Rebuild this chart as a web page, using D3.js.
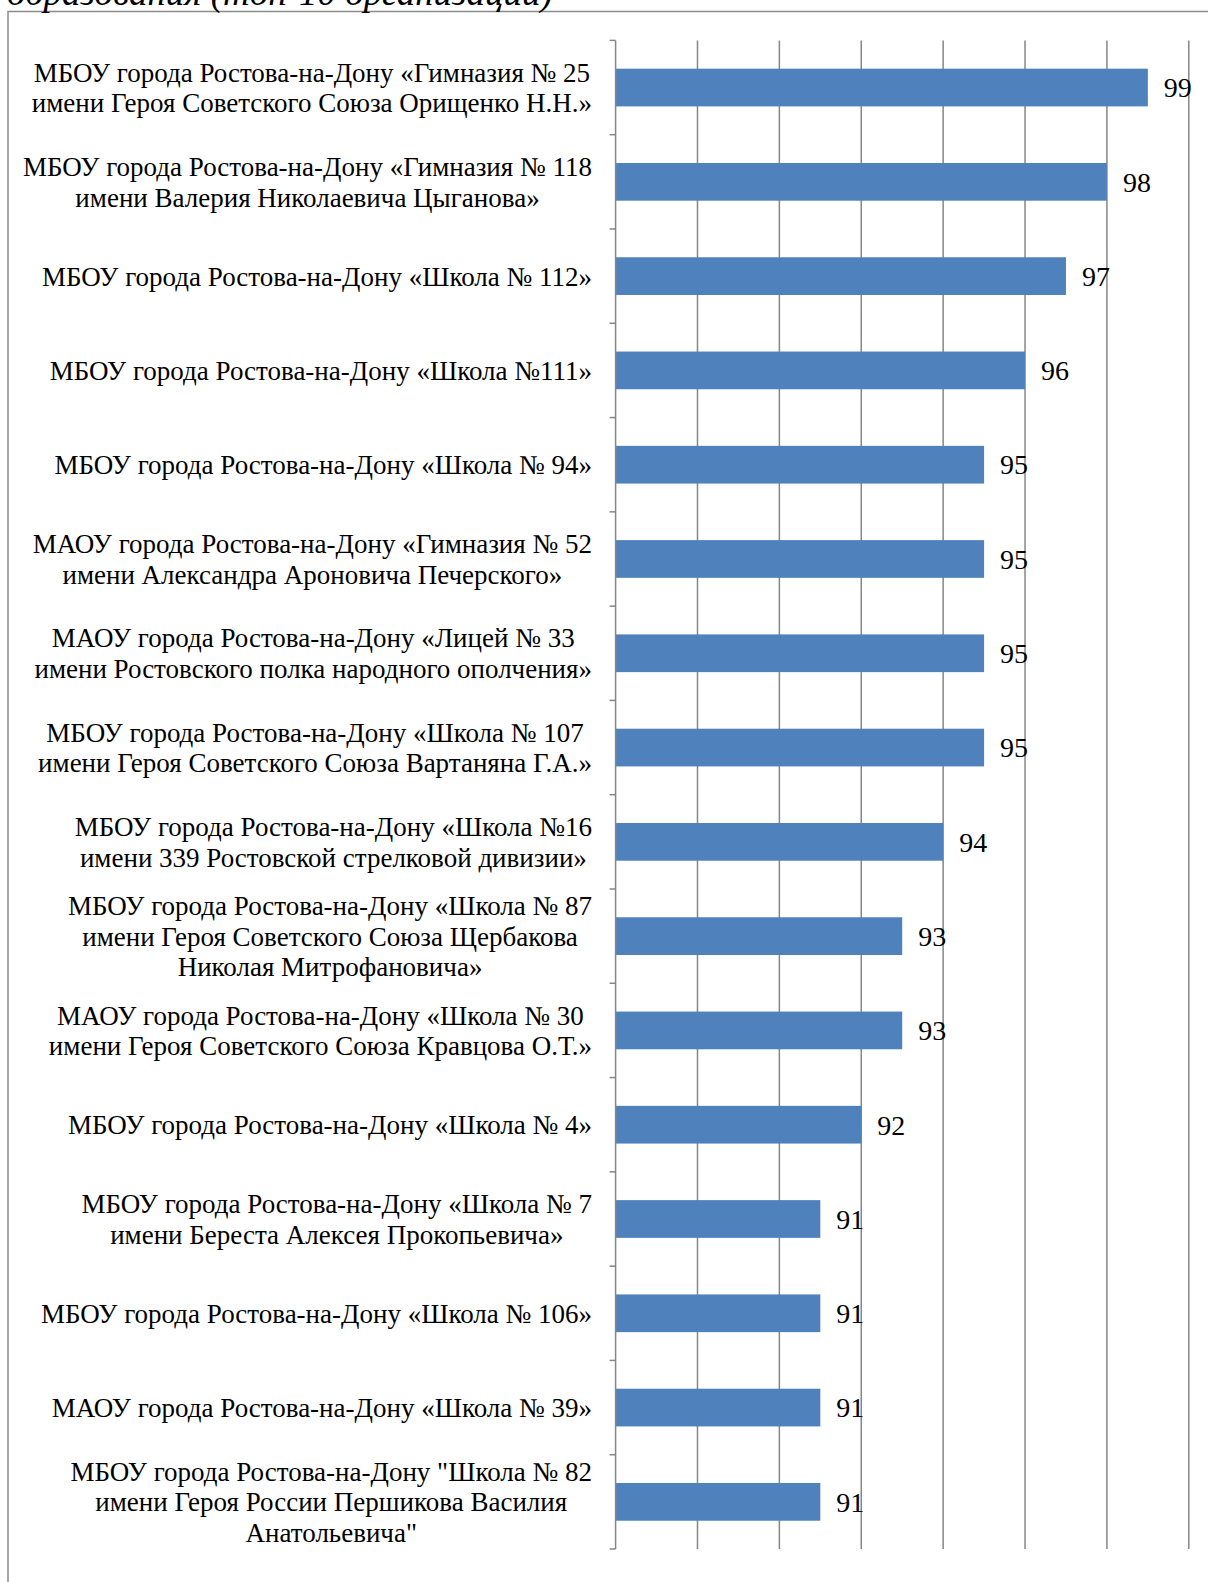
<!DOCTYPE html>
<html>
<head>
<meta charset="utf-8">
<script src="https://cdn.jsdelivr.net/npm/d3@7"></script>
<style>
  html, body { margin: 0; padding: 0; background: #fff; }
  svg { display: block; }
</style>
</head>
<body>
<div id="chart"></div>
<script>
// Data
const schools = [
  ["МБОУ города Ростова-на-Дону «Гимназия № 25", "имени Героя Советского Союза Орищенко Н.Н.»"],
  ["МБОУ города Ростова-на-Дону «Гимназия № 118", "имени Валерия Николаевича Цыганова»"],
  ["МБОУ города Ростова-на-Дону «Школа № 112»"],
  ["МБОУ города Ростова-на-Дону «Школа №111»"],
  ["МБОУ города Ростова-на-Дону «Школа № 94»"],
  ["МАОУ города Ростова-на-Дону «Гимназия № 52", "имени Александра Ароновича Печерского»"],
  ["МАОУ города Ростова-на-Дону «Лицей № 33", "имени Ростовского полка народного ополчения»"],
  ["МБОУ города Ростова-на-Дону «Школа № 107", "имени Героя Советского Союза Вартаняна Г.А.»"],
  ["МБОУ города Ростова-на-Дону «Школа №16", "имени 339 Ростовской стрелковой дивизии»"],
  ["МБОУ города Ростова-на-Дону «Школа № 87", "имени Героя Советского Союза Щербакова", "Николая Митрофановича»"],
  ["МАОУ города Ростова-на-Дону «Школа № 30", "имени Героя Советского Союза Кравцова О.Т.»"],
  ["МБОУ города Ростова-на-Дону «Школа № 4»"],
  ["МБОУ города Ростова-на-Дону «Школа № 7", "имени Береста Алексея Прокопьевича»"],
  ["МБОУ города Ростова-на-Дону «Школа № 106»"],
  ["МАОУ города Ростова-на-Дону «Школа № 39»"],
  ["МБОУ города Ростова-на-Дону \"Школа № 82", "имени Героя России Першикова Василия", "Анатольевича\""]
];
const scores = [99, 98, 97, 96, 95, 95, 95, 95, 94, 93, 93, 92, 91, 91, 91, 91];
const gridValues = [86, 88, 90, 92, 94, 96, 98, 100];
const titleTail = "образования (топ-10 организаций)";

// Dimensions
const width = 1208;
const height = 1582;
const plotLeft = 615.6, plotRight = 1188.8, plotTop = 40.4, plotBottom = 1549;
const font = "'Liberation Serif', 'Times New Roman', serif";

const svg = d3.select("#chart")
  .append("svg")
    .attr("width", width)
    .attr("height", height);

// Frame and cut-off caption
svg.append("rect")
  .attr("x", 8).attr("y", 11.5)
  .attr("width", 1220).attr("height", 1600)
  .attr("fill", "none")
  .attr("stroke", "#8c8c8c")
  .attr("stroke-width", 1.5);

svg.append("text")
  .attr("x", 7).attr("y", 5)
  .attr("font-family", font)
  .attr("font-style", "italic")
  .attr("font-size", "37px")
  .attr("fill", "#000")
  .text(titleTail);

const x = d3.scaleLinear().domain([86, 100]).range([plotLeft, plotRight]);
const y = d3.scaleBand()
  .domain(d3.range(schools.length))
  .range([plotTop, plotBottom])
  .paddingInner(0.6)
  .paddingOuter(0.3);

// Gridlines
svg.append("g")
  .selectAll("line")
  .data(gridValues.slice(1))
  .join("line")
    .attr("x1", d => x(d)).attr("x2", d => x(d))
    .attr("y1", plotTop).attr("y2", plotBottom)
    .attr("stroke", "#868686")
    .attr("stroke-width", 1.5);

// Bars
svg.append("g")
  .selectAll("rect")
  .data(scores)
  .join("rect")
    .attr("x", x(86))
    .attr("y", (d, i) => y(i))
    .attr("width", d => x(d) - x(86))
    .attr("height", y.bandwidth())
    .attr("fill", "#4f81bd");

// Category axis with ticks on band boundaries
const boundaries = d3.range(schools.length + 1).map(k => plotTop + k * y.step());
const axis = svg.append("g");
axis.append("line")
  .attr("x1", plotLeft).attr("x2", plotLeft)
  .attr("y1", plotTop).attr("y2", plotBottom)
  .attr("stroke", "#868686")
  .attr("stroke-width", 1.5);
axis.selectAll(".tick")
  .data(boundaries)
  .join("line")
    .attr("class", "tick")
    .attr("x1", plotLeft - 6).attr("x2", plotLeft)
    .attr("y1", d => d).attr("y2", d => d)
    .attr("stroke", "#868686")
    .attr("stroke-width", 1.5);

// Value labels
svg.append("g")
  .selectAll("text")
  .data(scores)
  .join("text")
    .attr("x", d => x(d) + 16)
    .attr("y", (d, i) => y(i) + y.bandwidth() / 2)
    .attr("dy", "0.35em")
    .attr("font-family", font)
    .attr("font-size", "28px")
    .attr("fill", "#000")
    .text(d => d);

// Category labels: block right-aligned, lines centred
const lineH = 30.5;
const labels = svg.append("g")
  .selectAll("text")
  .data(schools)
  .join("text")
    .attr("font-family", font)
    .attr("font-size", "27px")
    .attr("fill", "#000")
    .attr("text-anchor", "middle");

labels.each(function(lines, i) {
  const t = d3.select(this);
  const cy = y(i) + y.bandwidth() / 2;
  lines.forEach((ln, j) => {
    t.append("tspan")
      .attr("y", cy + (j - (lines.length - 1) / 2) * lineH)
      .attr("dy", "0.35em")
      .text(ln);
  });
  const w = d3.max(t.selectAll("tspan").nodes(), n => n.getComputedTextLength());
  t.selectAll("tspan").attr("x", 592 - w / 2);
});
</script>
</body>
</html>
